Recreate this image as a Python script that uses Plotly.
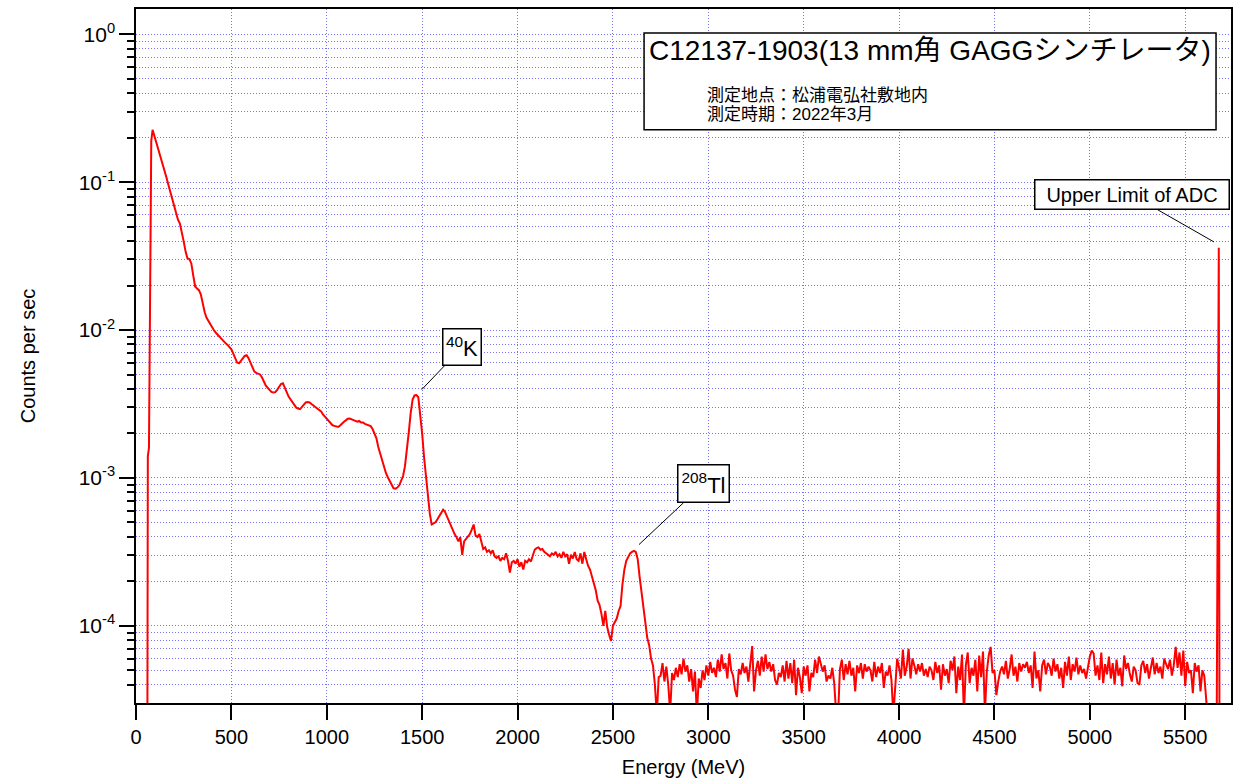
import plotly.graph_objects as go

# ---------------- data ----------------
head_energy = [58, 62, 68, 80, 87]
head_counts = [1e-6, 1.4e-3, 1.6e-3, 1.9e-1, 2.26e-1]

body_energy = list(range(100, 2750, 10))
body_counts = [
    0.199, 0.181, 0.164, 0.149, 0.133, 0.119, 0.107, 0.0957, 0.0861, 0.0774,
    0.0695, 0.0622, 0.0557, 0.0525, 0.0468, 0.0398, 0.0339, 0.0305, 0.0302, 0.0282,
    0.0234, 0.0197, 0.0191, 0.0186, 0.0174, 0.0148, 0.0132, 0.0121, 0.0115, 0.0108,
    0.0102, 0.00989, 0.00955, 0.00923, 0.00889, 0.00861, 0.00836, 0.00813, 0.00794, 0.00767,
    0.00741, 0.00692, 0.00646, 0.00603, 0.00596, 0.00617, 0.00646, 0.00668, 0.00675, 0.00646,
    0.00603, 0.00562, 0.00525, 0.00513, 0.00507, 0.00501, 0.00479, 0.00447, 0.00422, 0.00407,
    0.00394, 0.00382, 0.00378, 0.00380, 0.00394, 0.00412, 0.00432, 0.00437, 0.00412, 0.00380,
    0.00355, 0.00339, 0.00324, 0.00309, 0.00299, 0.00295, 0.00292, 0.00302, 0.00313, 0.00324,
    0.00326, 0.00324, 0.00316, 0.00309, 0.00302, 0.00295, 0.00291, 0.00282, 0.00269, 0.00260,
    0.00251, 0.00243, 0.00234, 0.00227, 0.00225, 0.00223, 0.00221, 0.00226, 0.00234, 0.00240,
    0.00245, 0.00251, 0.00252, 0.00248, 0.00245, 0.00243, 0.00240, 0.00243, 0.00237, 0.00237,
    0.00232, 0.00229, 0.00226, 0.00224, 0.00214, 0.00200, 0.00186, 0.00162, 0.00145, 0.00129,
    0.00116, 0.00108, 0.00101, 0.000955, 0.000902, 0.000851, 0.000847, 0.000861, 0.000891, 0.000955,
    0.00103, 0.00120, 0.00151, 0.00204, 0.00275, 0.00339, 0.00361, 0.00363, 0.00351, 0.00275,
    0.00200, 0.00138, 0.00100, 0.000741, 0.000575, 0.000484, 0.000490, 0.000501, 0.000525, 0.000556,
    0.000575, 0.000610, 0.000589, 0.000550, 0.000513, 0.000468, 0.000437, 0.000417, 0.000398, 0.000372,
    0.000398, 0.000302, 0.000372, 0.000389, 0.000407, 0.000417, 0.000447, 0.000484, 0.000407, 0.000398,
    0.000417, 0.000372, 0.000331, 0.000339, 0.000316, 0.000324, 0.000309, 0.000324, 0.000295, 0.000288,
    0.000295, 0.000275, 0.000288, 0.000282, 0.000309, 0.000275, 0.000229, 0.000269, 0.000275, 0.000263,
    0.000282, 0.000251, 0.000269, 0.000240, 0.000275, 0.000269, 0.000282, 0.000272, 0.000302, 0.000327,
    0.000335, 0.000339, 0.000327, 0.000331, 0.000316, 0.000309, 0.000299, 0.000295, 0.000309, 0.000302,
    0.000316, 0.000295, 0.000305, 0.000288, 0.000316, 0.000295, 0.000305, 0.000263, 0.000302, 0.000285,
    0.000316, 0.000282, 0.000275, 0.000309, 0.000263, 0.000316, 0.000282, 0.000254, 0.000240, 0.000214,
    0.000191, 0.000174, 0.000148, 0.000138, 0.000120, 0.000100, 0.000126, 0.000098, 0.000087, 0.000079,
    0.000100, 0.000105, 0.000112, 0.000126, 0.000136, 0.000191, 0.000240, 0.000275, 0.000295, 0.000309,
    0.000316, 0.000321, 0.000316, 0.000282, 0.000214, 0.000166, 0.000141, 0.000102, 0.000083, 0.000074,
    0.000060, 0.000054, 0.000040, 0.000025, 0.000045,
]

tail_energy = list(range(2750, 5650, 10))
tail_counts = [
    4.6e-5, 5.6e-5, 4.2e-5, 5.3e-5, 4.0e-5, 2.6e-5, 4.8e-5, 4.3e-5, 5.2e-5, 4.5e-5,
    5.5e-5, 4.7e-5, 6.0e-5, 4.9e-5, 5.4e-5, 4.2e-5, 5.1e-5, 3.6e-5, 4.9e-5, 2.5e-5,
    4.4e-5, 3.8e-5, 5.0e-5, 4.3e-5, 5.4e-5, 4.6e-5, 5.7e-5, 4.8e-5, 5.2e-5, 4.5e-5,
    5.9e-5, 4.9e-5, 6.4e-5, 5.1e-5, 5.6e-5, 4.4e-5, 6.5e-5, 5.0e-5, 4.6e-5, 3.7e-5,
    3.3e-5, 5.1e-5, 4.7e-5, 5.6e-5, 4.8e-5, 5.3e-5, 4.2e-5, 5.5e-5, 7.3e-5, 3.6e-5,
    5.0e-5, 5.8e-5, 4.6e-5, 6.2e-5, 4.9e-5, 6.4e-5, 5.1e-5, 5.7e-5, 4.9e-5, 5.5e-5,
    4.3e-5, 4.0e-5, 4.8e-5, 4.5e-5, 5.4e-5, 4.2e-5, 5.8e-5, 4.4e-5, 5.6e-5, 4.1e-5,
    5.9e-5, 3.4e-5, 5.2e-5, 4.5e-5, 3.5e-5, 5.3e-5, 4.6e-5, 5.4e-5, 3.6e-5, 4.8e-5,
    4.5e-5, 5.9e-5, 4.8e-5, 6.2e-5, 5.6e-5, 4.9e-5, 5.4e-5, 4.2e-5, 4.6e-5, 4.4e-5,
    5.2e-5, 4.1e-5, 2.6e-5, 2.4e-5, 5.1e-5, 5.9e-5, 4.3e-5, 5.5e-5, 4.7e-5, 5.8e-5,
    4.6e-5, 5.2e-5, 3.6e-5, 5.4e-5, 4.8e-5, 5.6e-5, 4.4e-5, 5.5e-5, 4.9e-5, 5.3e-5,
    5.0e-5, 4.2e-5, 5.7e-5, 4.5e-5, 5.3e-5, 4.8e-5, 5.6e-5, 3.8e-5, 4.9e-5, 4.6e-5,
    5.4e-5, 4.3e-5, 2.5e-5, 3.7e-5, 6.0e-5, 5.2e-5, 4.4e-5, 6.9e-5, 4.6e-5, 5.3e-5,
    7.0e-5, 4.4e-5, 6.0e-5, 5.4e-5, 4.7e-5, 5.5e-5, 4.9e-5, 5.6e-5, 4.6e-5, 5.1e-5,
    4.5e-5, 5.3e-5, 5.0e-5, 4.3e-5, 5.7e-5, 4.8e-5, 5.4e-5, 3.7e-5, 5.5e-5, 4.6e-5,
    5.1e-5, 4.1e-5, 5.8e-5, 5.0e-5, 6.2e-5, 3.5e-5, 5.3e-5, 4.3e-5, 6.4e-5, 2.5e-5,
    5.4e-5, 6.6e-5, 4.1e-5, 5.2e-5, 4.6e-5, 5.9e-5, 3.6e-5, 6.3e-5, 4.5e-5, 6.7e-5,
    2.6e-5, 4.9e-5, 6.3e-5, 7.2e-5, 4.8e-5, 5.0e-5, 3.4e-5, 4.2e-5, 4.9e-5, 5.3e-5,
    4.7e-5, 5.8e-5, 4.4e-5, 5.1e-5, 6.4e-5, 4.6e-5, 5.3e-5, 4.2e-5, 5.6e-5, 4.9e-5,
    5.5e-5, 5.2e-5, 5.7e-5, 4.8e-5, 5.4e-5, 3.8e-5, 6.7e-5, 4.4e-5, 5.0e-5, 3.6e-5,
    5.4e-5, 5.9e-5, 4.7e-5, 5.6e-5, 5.3e-5, 4.6e-5, 6.0e-5, 4.9e-5, 5.5e-5, 4.4e-5,
    5.2e-5, 3.8e-5, 5.7e-5, 4.6e-5, 6.2e-5, 4.3e-5, 5.5e-5, 4.9e-5, 6.1e-5, 4.7e-5,
    5.4e-5, 4.8e-5, 5.1e-5, 4.4e-5, 5.2e-5, 6.2e-5, 6.8e-5, 6.5e-5, 4.6e-5, 5.4e-5,
    4.3e-5, 6.6e-5, 4.1e-5, 5.5e-5, 4.7e-5, 6.2e-5, 4.4e-5, 5.6e-5, 4.0e-5, 5.9e-5,
    4.6e-5, 5.2e-5, 3.9e-5, 6.3e-5, 5.1e-5, 5.6e-5, 4.7e-5, 4.2e-5, 5.3e-5, 5.0e-5,
    4.1e-5, 4.0e-5, 5.4e-5, 5.8e-5, 4.8e-5, 5.5e-5, 4.4e-5, 5.2e-5, 6.1e-5, 4.7e-5,
    5.6e-5, 4.8e-5, 5.3e-5, 4.4e-5, 6.0e-5, 5.5e-5, 5.1e-5, 5.9e-5, 4.6e-5, 5.4e-5,
    7.2e-5, 5.2e-5, 6.6e-5, 4.6e-5, 6.8e-5, 3.9e-5, 5.7e-5, 4.8e-5, 5.0e-5, 3.5e-5,
    5.6e-5, 4.9e-5, 5.4e-5, 3.6e-5, 5.0e-5, 4.6e-5, 3.3e-5, 2.2e-5, 2.4e-5, 2.0e-5,
]

spike_energy = [5665, 5676, 5681]
spike_counts = [2.0e-5, 3.6e-2, 1e-6]

energy = head_energy + body_energy + tail_energy + spike_energy
counts = head_counts + body_counts + tail_counts + spike_counts

x_tickvals = [0, 500, 1000, 1500, 2000, 2500, 3000, 3500, 4000, 4500, 5000, 5500]
x_ticktext = [str(v) for v in x_tickvals]
y_tickvals = [1e0, 1e-1, 1e-2, 1e-3, 1e-4]
y_ticktext = ["10<sup>0</sup>", "10<sup>-1</sup>", "10<sup>-2</sup>",
              "10<sup>-3</sup>", "10<sup>-4</sup>"]
y_minorvals = [k * 10.0 ** e for e in range(-5, 1) for k in range(2, 10)]

title_text = "C12137-1903(13 mm角 GAGGシンチレータ)"
place_text = "測定地点：松浦電弘社敷地内"
date_text = "測定時期：2022年3月"

# ---------------- figure ----------------
FONT = "Liberation Sans, Arial, Helvetica, Noto Sans CJK JP, sans-serif"
GRID = "rgba(90,90,255,0.85)"
GRID_DASH = "1px,2px"

fig = go.Figure()
fig.add_trace(go.Scatter(x=energy, y=counts, mode="lines",
                         line=dict(color="#ff0000", width=2),
                         showlegend=False, hoverinfo="skip"))

fig.update_layout(
    width=1238, height=780,
    margin=dict(l=136, r=5, t=9, b=76),
    paper_bgcolor="white", plot_bgcolor="white",
    font=dict(family=FONT, color="black"),
    showlegend=False,
)

fig.update_xaxes(
    range=[0, 5740], tickmode="array", tickvals=x_tickvals, ticktext=x_ticktext,
    ticks="outside", ticklen=15, tickwidth=1.5, tickcolor="black",
    showline=True, linecolor="black", linewidth=1.5, mirror=True,
    showgrid=True, gridcolor=GRID, gridwidth=1, griddash=GRID_DASH, zeroline=False,
    tickfont=dict(size=20, color="black", family=FONT),
    title=dict(text="Energy (MeV)", font=dict(size=20, color="black", family=FONT), standoff=13),
)
fig.update_yaxes(
    type="log", range=[-4.522, 0.171], tickmode="array",
    tickvals=y_tickvals, ticktext=y_ticktext,
    ticks="outside", ticklen=15, tickwidth=1.5, tickcolor="black",
    showline=True, linecolor="black", linewidth=1.5, mirror=True,
    showgrid=True, gridcolor=GRID, gridwidth=1, griddash=GRID_DASH, zeroline=False,
    tickfont=dict(size=21, color="black", family=FONT),
    minor=dict(tickmode="array", tickvals=y_minorvals, ticks="outside", ticklen=7,
               tickwidth=1.5, tickcolor="black", showgrid=True, gridcolor=GRID,
               gridwidth=1, griddash=GRID_DASH),
    title=dict(text="Counts per sec", font=dict(size=20, color="black", family=FONT), standoff=38),
)

# info box
def px_x(p):
    return (p - 136) / 1097.0

def px_y(p):
    return (704 - p) / 695.0

fig.add_shape(type="rect", xref="paper", yref="paper",
              x0=px_x(645), x1=px_x(1218), y0=px_y(130), y1=px_y(33),
              line=dict(color="black", width=1.5), fillcolor="white", layer="above")
fig.add_annotation(xref="paper", yref="paper", x=px_x(931), y=px_y(51),
                   text=title_text, showarrow=False, xanchor="center", yanchor="middle",
                   font=dict(size=28, color="black", family=FONT))
fig.add_annotation(xref="paper", yref="paper", x=px_x(706), y=px_y(96),
                   text=place_text, showarrow=False, xanchor="left", yanchor="middle",
                   font=dict(size=17, color="black", family=FONT))
fig.add_annotation(xref="paper", yref="paper", x=px_x(706), y=px_y(115),
                   text=date_text, showarrow=False, xanchor="left", yanchor="middle",
                   font=dict(size=17, color="black", family=FONT))

# peak labels with leader lines
labels = [
    dict(x=1491, y=-2.412, text="<sup>40</sup>K", ax=42, ay=-44, w=37, h=35, size=22),
    dict(x=2629, y=-3.460, text="<sup>208</sup>Tl", ax=66, ay=-62, w=50, h=36, size=22),
    dict(x=5660, y=-1.411, text="Upper Limit of ADC", ax=-84, ay=-48, w=193, h=28, size=20),
]
for lb in labels:
    fig.add_annotation(x=lb["x"], y=lb["y"], xref="x", yref="y", text=lb["text"],
                       showarrow=True, arrowhead=0, arrowwidth=1, arrowcolor="black",
                       ax=lb["ax"], ay=lb["ay"], standoff=2,
                       width=lb["w"], height=lb["h"], align="center", valign="middle",
                       bordercolor="black", borderwidth=1.5, borderpad=0, bgcolor="white",
                       font=dict(size=lb["size"], color="black", family=FONT))

fig.write_html("out.html", config={"displayModeBar": False},
               post_script="document.body.style.margin='0px';")
